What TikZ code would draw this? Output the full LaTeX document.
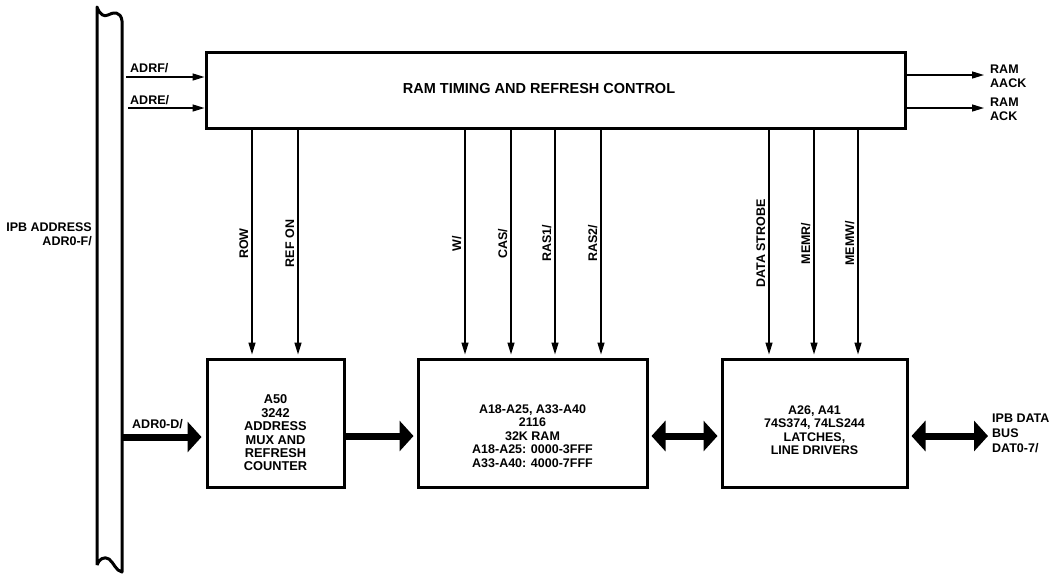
\documentclass[tikz,border=0pt]{standalone}
\usepackage{fontspec}
\setmainfont{Liberation Sans}
\usetikzlibrary{arrows.meta}
\begin{document}
\begin{tikzpicture}[x=1pt,y=-1pt,
  lbl/.style={font=\fontsize{12.5}{14}\selectfont\bfseries, inner sep=0pt},
  blk/.style={draw, line width=3pt, rectangle, inner sep=0pt},
  sig/.style={line width=1.4pt, -{Triangle[length=12pt,width=7pt]}},
  vlab/.style={lbl, midway, rotate=90, anchor=south, inner sep=3pt},
  fat/.style={line width=7pt, -{Triangle[length=14pt,width=30pt]}},
  fatboth/.style={line width=7pt, {Triangle[length=14pt,width=30pt]}-{Triangle[length=14pt,width=30pt]}},
  busline/.style={line width=3pt, line join=round}]
\useasboundingbox[fill=white] (0,0) rectangle (1053,574);

% bus
\draw[busline] (97,565) -- (97,7) .. controls (100,15) and (104,17) .. (108,15)
  .. controls (113,12) and (121,11) .. (122,21) -- (122,572)
  .. controls (116,571) and (114,563) .. (109,559)
  .. controls (104,556) and (99,559) .. (97,565);
\node[lbl, align=right, anchor=east] (buslbl) at (92,234) {IPB ADDRESS\\ADR0-F/};

% control box
\node[blk, minimum width=699pt, minimum height=76pt] (ctrl) at (555.5,90) {};
\node[lbl, font=\fontsize{14.5}{16}\selectfont\bfseries] (ctrltxt) at (539,89) {RAM TIMING AND REFRESH CONTROL};

% lower boxes
\node[blk, minimum width=137pt, minimum height=128pt] (mux) at (275.5,423) {};
\node[blk, minimum width=229pt, minimum height=128pt] (ram) at (532.5,423) {};
\node[blk, minimum width=185pt, minimum height=128pt] (latch) at (814.5,423) {};
\node[lbl, align=center, font=\fontsize{12.8}{13.4}\selectfont\bfseries] (muxtxt) at (275.5,433)
  {A50\\3242\\ADDRESS\\MUX AND\\REFRESH\\COUNTER};
\node[lbl, align=center, font=\fontsize{12.5}{13.4}\selectfont\bfseries] (ramtxt) at (532.5,436)
  {A18-A25, A33-A40\\2116\\32K RAM\\A18-A25: 0000-3FFF\\A33-A40: 4000-7FFF};
\node[lbl, align=center, font=\fontsize{12.5}{13.4}\selectfont\bfseries] (latchtxt) at (814.5,430)
  {A26, A41\\74S374, 74LS244\\LATCHES,\\LINE DRIVERS};

% inputs to control
\coordinate (adrf) at (126,77);
\coordinate (adre) at (128,108);
\draw[sig] (adrf) -- (adrf -| ctrl.west);
\draw[sig] (adre) -- (adre -| ctrl.west);
\node[lbl, anchor=south west] (adrflbl) at (130,73) {ADRF/};
\node[lbl, anchor=south west] (adrelbl) at (130,105) {ADRE/};

% outputs
\coordinate (aack) at (984,75);
\coordinate (ack) at (984,108);
\draw[sig] (ctrl.east |- aack) -- (aack);
\draw[sig] (ctrl.east |- ack) -- (ack);
\node[lbl, align=left, anchor=west] (aacklbl) at (990,76) {RAM\\AACK};
\node[lbl, align=left, anchor=west] (acklbl) at (990,109) {RAM\\ACK};

% vertical signals
\coordinate (xrow) at (252,0);
\coordinate (xref) at (298,0);
\coordinate (xw) at (465,0);
\coordinate (xcas) at (511,0);
\coordinate (xras1) at (555,0);
\coordinate (xras2) at (601,0);
\coordinate (xds) at (769,0);
\coordinate (xmemr) at (814,0);
\coordinate (xmemw) at (858,0);
\draw[sig, shorten >=3pt] (xrow |- ctrl.south) -- node[vlab] {ROW} (xrow |- mux.north);
\draw[sig, shorten >=3pt] (xref |- ctrl.south) -- node[vlab] {REF ON} (xref |- mux.north);
\draw[sig, shorten >=3pt] (xw |- ctrl.south) -- node[vlab] {W/} (xw |- ram.north);
\draw[sig, shorten >=3pt] (xcas |- ctrl.south) -- node[vlab] {CAS/} (xcas |- ram.north);
\draw[sig, shorten >=3pt] (xras1 |- ctrl.south) -- node[vlab] {RAS1/} (xras1 |- ram.north);
\draw[sig, shorten >=3pt] (xras2 |- ctrl.south) -- node[vlab] {RAS2/} (xras2 |- ram.north);
\draw[sig, shorten >=3pt] (xds |- ctrl.south) -- node[vlab] {DATA STROBE} (xds |- latch.north);
\draw[sig, shorten >=3pt] (xmemr |- ctrl.south) -- node[vlab] {MEMR/} (xmemr |- latch.north);
\draw[sig, shorten >=3pt] (xmemw |- ctrl.south) -- node[vlab] {MEMW/} (xmemw |- latch.north);

% fat data paths
\coordinate (adr0) at (123,437);
\coordinate (yfat) at (0,436);
\coordinate (dbus) at (988,436);
\draw[fat, shorten >=4pt] (adr0) -- (adr0 -| mux.west);
\node[lbl, anchor=south west] (adr0lbl) at (132,429) {ADR0-D/};
\draw[fat, shorten >=3pt] (mux.east |- yfat) -- (ram.west |- yfat);
\draw[fatboth, shorten >=3pt, shorten <=3pt] (ram.east |- yfat) -- (latch.west |- yfat);
\draw[fatboth, shorten <=3pt] (latch.east |- yfat) -- (dbus);
\node[lbl, align=left, anchor=west, font=\fontsize{12.5}{15}\selectfont\bfseries] (dbuslbl) at (992,433) {IPB DATA\\BUS\\DAT0-7/};
\end{tikzpicture}
\end{document}
